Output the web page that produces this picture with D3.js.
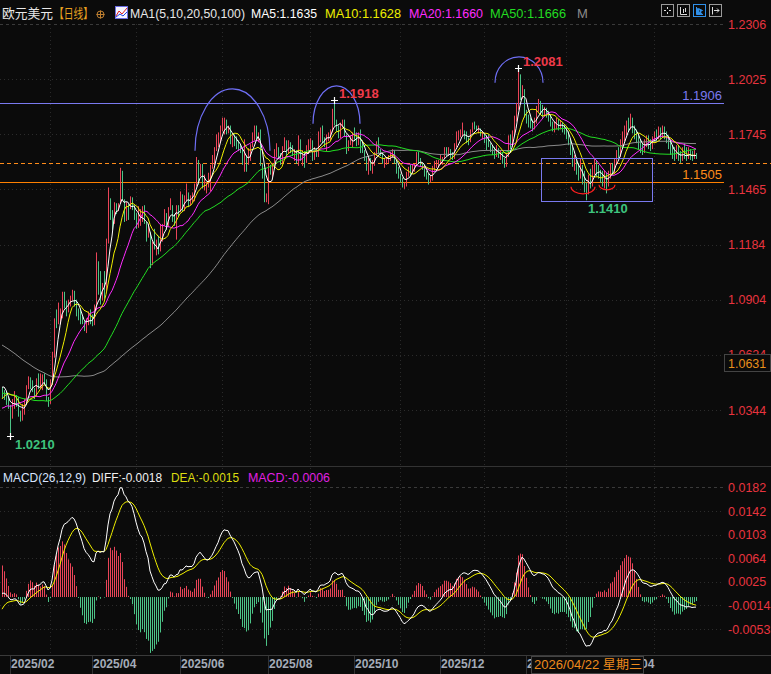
<!DOCTYPE html>
<html><head><meta charset="utf-8">
<script src="https://cdn.jsdelivr.net/npm/d3@7"></script>
<style>
html,body{margin:0;padding:0;background:#0b0b0b;overflow:hidden;}
svg{display:block;}
text{font-family:"Liberation Sans",Arial,"Noto Sans CJK SC",sans-serif;}
</style></head><body>
<svg id="c" width="771" height="674"></svg>
<script>
// ---- prehistory closes (for MA100 / MACD warm-up, not drawn) ----
const preClose = [1.1045,1.1085,1.1110,1.1085,1.1030,1.1045,1.1010,1.1075,1.1075,1.1135,1.1115,1.1160,1.1120,1.1165,1.1115,1.1135,1.1180,1.1135,1.1165,1.1135,
1.1070,1.1045,1.1030,1.0975,1.0975,1.0940,1.0935,1.0940,1.0935,1.0910,1.0890,1.0865,1.0830,1.0865,1.0855,1.0820,1.0780,1.0800,1.0795,1.0815,1.0805,1.0855,1.0880,
1.0835,1.0880,1.0735,1.0800,1.0720,1.0655,1.0620,1.0565,1.0530,1.0540,1.0600,1.0545,1.0470,1.0415,1.0425,1.0500,1.0490,1.0570,1.0550,1.0575,1.0505,
1.0500,1.0510,1.0510,1.0585,1.0565,1.0555,1.0530,1.0500,1.0465,1.0500,1.0510,1.0490,1.0350,1.0365,1.0430,1.0405,1.0405,1.0420,1.0425,1.0410,1.0355,
1.0265,1.0310,1.0390,1.0345,1.0320,1.0300,1.0245,1.0245,1.0290,1.0300,1.0300,1.0270,1.0420,1.0410,1.0415,1.0470,1.0495,1.0490];

// ---- daily bars shown ----
const close = [1.0430,1.0420,1.0390,1.0362,
1.0345,1.0378,1.0405,1.0383,1.0330,1.0310,1.0360,1.0380,1.0465,1.0490,1.0485,1.0445,1.0425,1.0500,1.0460,1.0465,1.0512,1.0485,1.0400,1.0375,
1.0485,1.0625,1.0790,1.0785,1.0830,1.0830,1.0920,1.0890,1.0850,1.0880,1.0920,1.0945,1.0900,1.0855,1.0815,1.0800,1.0790,1.0755,1.0800,1.0830,1.0815,
1.0790,1.0850,1.1050,1.0960,1.0910,1.0960,1.0950,1.1195,1.1360,1.1350,1.1285,1.1395,1.1370,1.1380,1.1510,1.1420,1.1315,1.1390,1.1365,1.1420,1.1400,1.1330,
1.1290,1.1300,1.1315,1.1370,1.1300,1.1230,1.1250,1.1090,1.1190,1.1175,1.1190,1.1165,1.1240,1.1285,1.1330,1.1280,1.1365,1.1385,1.1325,1.1290,1.1370,1.1350,
1.1440,1.1370,1.1415,1.1445,1.1395,1.1420,1.1425,1.1490,1.1585,1.1550,1.1560,1.1480,1.1480,1.1480,1.1520,1.1580,1.1610,1.1660,1.1700,1.1720,1.1790,
1.1800,1.1800,1.1760,1.1780,1.1710,1.1725,1.1720,1.1700,1.1690,1.1665,1.1600,1.1640,1.1595,1.1625,1.1690,1.1750,1.1750,1.1740,1.1740,1.1590,1.1545,1.1405,1.1415,
1.1585,1.1570,1.1575,1.1660,1.1665,1.1640,1.1615,1.1675,1.1705,1.1650,1.1700,1.1660,1.1650,1.1650,1.1610,1.1720,1.1620,1.1640,1.1605,1.1680,1.1685,
1.1710,1.1640,1.1660,1.1650,1.1720,1.1760,1.1710,1.1700,1.1735,1.1735,1.1760,1.1860,1.1815,1.1780,1.1745,1.1800,1.1815,1.1740,1.1665,1.1700,1.1725,1.1735,
1.1730,1.1715,1.1740,1.1710,1.1660,1.1630,1.1565,1.1620,1.1570,1.1605,1.1645,1.1690,1.1655,1.1645,1.1610,1.1610,1.1620,1.1625,1.1645,1.1655,1.1600,1.1565,1.1535,
1.1520,1.1485,1.1490,1.1545,1.1565,1.1560,1.1580,1.1590,1.1630,1.1620,1.1595,1.1580,1.1545,1.1530,1.1510,1.1520,1.1570,1.1595,1.1595,1.1600,
1.1610,1.1625,1.1665,1.1645,1.1645,1.1640,1.1630,1.1690,1.1740,1.1740,1.1750,1.1750,1.1740,1.1720,1.1710,1.1760,1.1790,1.1780,1.1770,1.1770,1.1745,1.1745,
1.1720,1.1715,1.1690,1.1680,1.1660,1.1635,1.1665,1.1645,1.1645,1.1610,1.1595,1.1640,1.1720,1.1690,1.1750,1.1830,1.1880,1.2040,1.1955,1.1965,1.1850,
1.1820,1.1810,1.1800,1.1780,1.1815,1.1875,1.1900,1.1870,1.1860,1.1870,1.1850,1.1835,1.1800,1.1775,1.1790,1.1810,1.1780,1.1800,1.1780,1.1770,
1.1740,1.1700,1.1660,1.1600,1.1615,1.1560,1.1540,1.1570,1.1510,1.1480,1.1460,1.1520,1.1500,1.1560,1.1590,1.1560,1.1545,1.1520,1.1510,1.1530,1.1490,1.1545,
1.1580,1.1560,1.1610,1.1650,1.1640,1.1700,1.1730,1.1760,1.1800,1.1780,1.1810,1.1770,1.1750,1.1720,1.1700,1.1680,1.1660,1.1700,1.1720,1.1700,1.1690,1.1720,
1.1740,1.1730,1.1760,1.1750,1.1770,1.1745,1.1720,1.1690,1.1660,1.1650,1.1630,1.1660,1.1640,1.1620,1.1650,1.1640,1.1630,1.1650,1.1640,1.1625,1.1640,1.1635];

const high = [1.0460,1.0445,1.0440,1.0410,
1.0370,1.0400,1.0440,1.0420,1.0410,1.0340,1.0375,1.0400,1.0470,1.0515,1.0510,1.0495,1.0455,1.0505,1.0530,1.0530,1.0525,1.0530,1.0500,1.0410,
1.0500,1.0640,1.0810,1.0855,1.0890,1.0860,1.0945,1.0945,1.0900,1.0905,1.0925,1.0955,1.0950,1.0905,1.0860,1.0860,1.0820,1.0800,1.0810,1.0845,1.0855,
1.0830,1.0880,1.1145,1.1100,1.1050,1.0990,1.1050,1.1215,1.1475,1.1420,1.1360,1.1400,1.1395,1.1395,1.1575,1.1560,1.1415,1.1400,1.1390,1.1430,1.1425,1.1385,
1.1345,1.1380,1.1365,1.1380,1.1385,1.1300,1.1290,1.1250,1.1200,1.1265,1.1210,1.1230,1.1290,1.1290,1.1365,1.1345,1.1375,1.1420,1.1385,1.1340,1.1385,1.1385,
1.1455,1.1440,1.1435,1.1495,1.1450,1.1435,1.1450,1.1495,1.1630,1.1615,1.1595,1.1595,1.1540,1.1500,1.1550,1.1590,1.1640,1.1680,1.1745,1.1755,1.1790,
1.1830,1.1830,1.1820,1.1790,1.1790,1.1740,1.1745,1.1735,1.1715,1.1690,1.1675,1.1720,1.1640,1.1675,1.1695,1.1755,1.1790,1.1790,1.1755,1.1770,1.1595,1.1565,1.1445,
1.1595,1.1590,1.1600,1.1670,1.1700,1.1680,1.1650,1.1685,1.1730,1.1715,1.1715,1.1705,1.1690,1.1670,1.1665,1.1740,1.1720,1.1665,1.1660,1.1690,1.1720,
1.1725,1.1715,1.1680,1.1675,1.1760,1.1780,1.1790,1.1730,1.1745,1.1755,1.1770,1.1875,1.1918,1.1820,1.1790,1.1805,1.1820,1.1820,1.1745,1.1715,1.1740,1.1755,
1.1780,1.1755,1.1755,1.1770,1.1715,1.1665,1.1635,1.1625,1.1625,1.1615,1.1655,1.1710,1.1730,1.1670,1.1650,1.1625,1.1630,1.1640,1.1655,1.1670,1.1665,1.1615,1.1580,
1.1545,1.1525,1.1500,1.1555,1.1580,1.1590,1.1595,1.1595,1.1655,1.1655,1.1625,1.1600,1.1590,1.1560,1.1545,1.1535,1.1585,1.1610,1.1615,1.1615,
1.1645,1.1630,1.1680,1.1680,1.1680,1.1670,1.1655,1.1700,1.1760,1.1765,1.1770,1.1805,1.1765,1.1760,1.1730,1.1770,1.1805,1.1810,1.1790,1.1790,1.1775,1.1760,
1.1750,1.1740,1.1745,1.1700,1.1690,1.1680,1.1690,1.1675,1.1665,1.1655,1.1625,1.1650,1.1740,1.1745,1.1765,1.1840,1.1905,1.2081,1.2050,1.1995,1.1975,
1.1870,1.1845,1.1830,1.1820,1.1830,1.1890,1.1925,1.1915,1.1895,1.1885,1.1880,1.1865,1.1845,1.1810,1.1810,1.1830,1.1820,1.1815,1.1805,1.1795,
1.1780,1.1760,1.1720,1.1680,1.1640,1.1630,1.1600,1.1620,1.1590,1.1560,1.1500,1.1540,1.1570,1.1590,1.1620,1.1610,1.1590,1.1565,1.1560,1.1560,1.1550,1.1560,
1.1600,1.1600,1.1620,1.1665,1.1680,1.1720,1.1760,1.1790,1.1815,1.1830,1.1850,1.1830,1.1790,1.1770,1.1740,1.1720,1.1700,1.1720,1.1740,1.1740,1.1720,1.1735,
1.1760,1.1770,1.1785,1.1780,1.1790,1.1785,1.1760,1.1740,1.1710,1.1690,1.1680,1.1690,1.1690,1.1660,1.1680,1.1700,1.1680,1.1680,1.1670,1.1660,1.1665,1.1650];

const low = [1.0405,1.0395,1.0370,1.0350,
1.0210,1.0300,1.0350,1.0360,1.0310,1.0285,1.0290,1.0320,1.0370,1.0450,1.0450,1.0435,1.0400,1.0410,1.0450,1.0450,1.0445,1.0470,1.0390,1.0360,
1.0375,1.0470,1.0610,1.0760,1.0780,1.0780,1.0810,1.0860,1.0820,1.0840,1.0870,1.0900,1.0870,1.0820,1.0800,1.0780,1.0780,1.0745,1.0735,1.0775,1.0780,
1.0770,1.0775,1.0850,1.0930,1.0880,1.0900,1.0910,1.0950,1.1190,1.1310,1.1260,1.1290,1.1340,1.1355,1.1395,1.1410,1.1300,1.1305,1.1310,1.1365,1.1360,1.1310,
1.1265,1.1270,1.1280,1.1300,1.1290,1.1200,1.1220,1.1065,1.1080,1.1160,1.1130,1.1135,1.1150,1.1200,1.1280,1.1260,1.1275,1.1360,1.1300,1.1280,1.1210,1.1325,
1.1350,1.1355,1.1355,1.1405,1.1375,1.1385,1.1400,1.1405,1.1480,1.1490,1.1530,1.1470,1.1460,1.1445,1.1475,1.1455,1.1570,1.1590,1.1660,1.1680,1.1705,
1.1760,1.1745,1.1745,1.1750,1.1695,1.1680,1.1685,1.1670,1.1660,1.1650,1.1590,1.1555,1.1555,1.1590,1.1610,1.1680,1.1715,1.1720,1.1705,1.1585,1.1520,1.1400,1.1400,
1.1390,1.1540,1.1530,1.1570,1.1630,1.1625,1.1590,1.1595,1.1665,1.1630,1.1645,1.1650,1.1635,1.1610,1.1595,1.1585,1.1610,1.1585,1.1575,1.1600,1.1645,
1.1670,1.1610,1.1615,1.1630,1.1630,1.1705,1.1700,1.1680,1.1660,1.1710,1.1715,1.1755,1.1790,1.1760,1.1725,1.1725,1.1780,1.1735,1.1645,1.1660,1.1690,1.1680,
1.1715,1.1685,1.1690,1.1650,1.1650,1.1610,1.1560,1.1540,1.1560,1.1545,1.1585,1.1635,1.1645,1.1635,1.1595,1.1575,1.1590,1.1600,1.1610,1.1625,1.1595,1.1545,1.1520,
1.1500,1.1475,1.1468,1.1480,1.1530,1.1535,1.1545,1.1555,1.1585,1.1595,1.1580,1.1565,1.1530,1.1515,1.1490,1.1500,1.1510,1.1560,1.1575,1.1575,
1.1590,1.1590,1.1620,1.1635,1.1635,1.1625,1.1615,1.1620,1.1680,1.1715,1.1730,1.1735,1.1720,1.1700,1.1690,1.1705,1.1755,1.1770,1.1765,1.1750,1.1735,1.1720,
1.1700,1.1665,1.1680,1.1655,1.1640,1.1620,1.1630,1.1625,1.1615,1.1595,1.1575,1.1580,1.1630,1.1670,1.1680,1.1740,1.1810,1.1870,1.1920,1.1925,1.1830,
1.1800,1.1780,1.1775,1.1760,1.1770,1.1800,1.1860,1.1850,1.1830,1.1835,1.1830,1.1810,1.1785,1.1760,1.1755,1.1770,1.1765,1.1770,1.1755,1.1745,
1.1720,1.1690,1.1640,1.1580,1.1560,1.1540,1.1510,1.1520,1.1490,1.1450,1.1410,1.1440,1.1470,1.1480,1.1540,1.1530,1.1520,1.1500,1.1480,1.1470,1.1445,1.1480,
1.1520,1.1540,1.1545,1.1590,1.1620,1.1630,1.1680,1.1710,1.1740,1.1760,1.1770,1.1750,1.1720,1.1700,1.1670,1.1650,1.1640,1.1650,1.1680,1.1670,1.1660,1.1670,
1.1700,1.1710,1.1720,1.1720,1.1730,1.1720,1.1700,1.1670,1.1640,1.1620,1.1610,1.1620,1.1610,1.1600,1.1610,1.1620,1.1610,1.1620,1.1615,1.1610,1.1620,1.1620];

const maPeriods = [5,10,20,50,100];
const maColors = ["#ffffff","#eeee00","#ff2cff","#22dd22","#8a8a8a"];
const priceTicks = [1.2306,1.2025,1.1745,1.1465,1.1184,1.0904,1.0624,1.0344];
const macdTicks = [0.0182,0.0142,0.0103,0.0064,0.0025,-0.0014,-0.0053];
const monthLabels = ["2025/02","2025/04","2025/06","2025/08","2025/10","2025/12","2026/02","2026/04"];
const monthIdx = [4,45,89,133,176,219,262,304];
const gridIdx = [24,67,110,154,199,241,282,326];
const highMarks = [166,258];
const lowMarks = [4,292];
const levelBlue = 1.1906, levelOrange = 1.1505, levelDash = 1.1602;
const arcsTop = [[96.5,134,1.1976,1.1662],[155.5,179,1.1992,1.1799],[246.5,270.5,1.2139,1.2007]];
const arcsBottom = [[284.5,296.5,1.1443,1.1479],[298.5,306.5,1.1463,1.1489]];
const boxZone = [269.5,325,1.1626,1.1408];
const legendMA = ["MA5:1.1635","MA10:1.1628","MA20:1.1660","MA50:1.1666"];
const legendMACD = ["DIFF:-0.0018","DEA:-0.0015","MACD:-0.0006"];
const cursorPrice = "1.0631", cursorDate = "2026/04/22 星期三";

// ---------- computations ----------
const all = preClose.concat(close);
const off = preClose.length;
const N = close.length;
function ma(n){ return close.map((c,i)=>{ const k=off+i; let s=0; for(let j=k-n+1;j<=k;j++) s+=all[j]; return s/n; }); }
const mas = maPeriods.map(ma);
function emaArr(arr,n){ const a=2/(n+1); const out=[]; let e=arr[0]; arr.forEach((v,i)=>{ e = i===0? v : e+(v-e)*a; out.push(e);}); return out; }
const e12 = emaArr(all,12), e26 = emaArr(all,26);
const diffAll = all.map((v,i)=>e12[i]-e26[i]);
const deaAll = emaArr(diffAll,9);
const diff = diffAll.slice(off), dea = deaAll.slice(off);
const hist = diff.map((d,i)=>2*(d-dea[i]));
const open = close.map((c,i)=> i===0 ? preClose[preClose.length-1] : close[i-1]);

// ---------- scales ----------
const svg = d3.select("#c");
const x = d3.scaleLinear().domain([0,N-1]).range([2,2+2*(N-1)]);
const y = d3.scaleLinear().domain([1.0344,1.2306]).range([410,24]);
const ym = d3.scaleLinear().domain([-0.0053,0.0182]).range([629,487.3]);
const RED="#ea4458", GRN="#4cc487", AXR="#e8343f";
const px = v=>Math.round(v)+0.5;

svg.append("rect").attr("width",771).attr("height",674).attr("fill","#0b0b0b");
const defs = svg.append("defs");
defs.append("clipPath").attr("id","cm").append("rect").attr("x",0).attr("y",20).attr("width",724).attr("height",446);
defs.append("clipPath").attr("id","cd").append("rect").attr("x",0).attr("y",468).attr("width",724).attr("height",187);
const cx1 = defs.append("clipPath").attr("id","cx");
cx1.append("rect").attr("x",0).attr("y",656).attr("width",531).attr("height",18);
cx1.append("rect").attr("x",644).attr("y",656).attr("width",127).attr("height",18);
defs.append("clipPath").attr("id","cy").append("rect").attr("x",724).attr("y",0).attr("width",47).attr("height",354);
defs.append("clipPath").attr("id","cy2").append("rect").attr("x",724).attr("y",372).attr("width",47).attr("height",100);

// grid
const g = svg.append("g");
g.selectAll(".hg").data(priceTicks).join("line").attr("x1",0).attr("x2",724)
 .attr("y1",d=>px(y(d))).attr("y2",d=>px(y(d))).attr("stroke",(d,i)=>i===0?"#3a3a3a":"#2c2c2c").attr("stroke-dasharray",(d,i)=>i===0?"3,3":"1,3");
g.selectAll(".hm").data(macdTicks).join("line").attr("x1",0).attr("x2",724)
 .attr("y1",d=>px(ym(d))).attr("y2",d=>px(ym(d))).attr("stroke",(d,i)=>i===0?"#3a3a3a":"#2c2c2c").attr("stroke-dasharray",(d,i)=>i===0?"3,3":"1,3");
g.selectAll(".vg").data(gridIdx).join("line").attr("x1",d=>px(x(d))).attr("x2",d=>px(x(d)))
 .attr("y1",24).attr("y2",655).attr("stroke","#2a2a2a").attr("stroke-dasharray","1,3");
// pane separators
svg.append("line").attr("x1",0).attr("x2",771).attr("y1",466.5).attr("y2",466.5).attr("stroke","#333");
svg.append("line").attr("x1",0).attr("x2",771).attr("y1",655.5).attr("y2",655.5).attr("stroke","#3a3a3a");

// level lines
svg.append("line").attr("x1",0).attr("x2",724).attr("y1",px(y(levelBlue))).attr("y2",px(y(levelBlue))).attr("stroke","#7a7af0");
svg.append("line").attr("x1",0).attr("x2",724).attr("y1",px(y(levelOrange))).attr("y2",px(y(levelOrange))).attr("stroke","#ff8000");
svg.append("line").attr("x1",0).attr("x2",771).attr("y1",px(y(levelDash))).attr("y2",px(y(levelDash))).attr("stroke","#ff8c1a").attr("stroke-dasharray","4,3");

// candles
const cg = svg.append("g").attr("clip-path","url(#cm)");
cg.selectAll("line").data(close).join("line")
 .attr("x1",(d,i)=>px(x(i))).attr("x2",(d,i)=>px(x(i)))
 .attr("y1",(d,i)=>y(high[i])).attr("y2",(d,i)=>y(low[i]))
 .attr("stroke",(d,i)=> close[i]>=open[i]?RED:GRN).attr("stroke-width",1);

// moving averages
const lineMain = d3.line().x((d,i)=>x(i)).y(d=>y(d));
const mg = svg.append("g").attr("clip-path","url(#cm)");
[4,3,2,1,0].forEach(k=>{
  mg.append("path").attr("d",lineMain(mas[k])).attr("fill","none").attr("stroke",maColors[k]).attr("stroke-width",1);
});

// MACD
const dg = svg.append("g").attr("clip-path","url(#cd)");
dg.selectAll("line").data(hist).join("line")
 .attr("x1",(d,i)=>px(x(i))).attr("x2",(d,i)=>px(x(i)))
 .attr("y1",ym(0)).attr("y2",d=>ym(d)).attr("stroke",d=>d>=0?RED:GRN);
const lineM = d3.line().x((d,i)=>x(i)).y(d=>ym(d));
dg.append("path").attr("d",lineM(dea)).attr("fill","none").attr("stroke","#eeee00");
dg.append("path").attr("d",lineM(diff)).attr("fill","none").attr("stroke","#ffffff");

// annotations
const ag = svg.append("g");
arcsTop.forEach(a=>{
  const x0=x(a[0]), x1=x(a[1]), yt=y(a[2]), yb=y(a[3]);
  ag.append("path").attr("d",`M${x0},${yb} A${(x1-x0)/2},${yb-yt} 0 0 1 ${x1},${yb}`).attr("fill","none").attr("stroke","#6f6ff5").attr("stroke-width",1.2);
});
arcsBottom.forEach(a=>{
  const x0=x(a[0]), x1=x(a[1]), ybot=y(a[2]), yb=y(a[3]);
  ag.append("path").attr("d",`M${x0},${yb} A${(x1-x0)/2},${ybot-yb} 0 0 0 ${x1},${yb}`).attr("fill","none").attr("stroke","#ff2020").attr("stroke-width",1.2);
});
ag.append("rect").attr("x",px(x(boxZone[0]))).attr("y",px(y(boxZone[2]))).attr("width",Math.round(x(boxZone[1])-x(boxZone[0])))
 .attr("height",Math.round(y(boxZone[3])-y(boxZone[2]))).attr("fill","none").attr("stroke","#7a7af0");

// extreme marks
function cross(cx,cy){ ag.append("path").attr("d",`M${cx-3},${cy+0.5}H${cx+4}M${cx+0.5},${cy-3}V${cy+4}`).attr("stroke","#fff").attr("stroke-width",1.2); }
highMarks.forEach(i=>{
  const cx=Math.round(x(i)), cy=Math.round(y(high[i]));
  cross(cx,cy);
  ag.append("text").attr("x",cx+5).attr("y",cy-2).attr("fill","#f03a4a").attr("font-size",13).attr("font-weight","bold").text(high[i].toFixed(4));
});
lowMarks.forEach((i,k)=>{
  const cx=Math.round(x(i)), cy=Math.round(y(low[i]));
  if(k===0) cross(cx,cy);
  ag.append("text").attr("x",cx+(k===0?5:2)).attr("y",cy+13).attr("fill","#3ec47e").attr("font-size",13).attr("font-weight","bold").text(low[i].toFixed(4));
});
// level labels
svg.append("text").attr("x",722).attr("y",y(levelBlue)-3).attr("text-anchor","end").attr("fill","#7a7af0").attr("font-size",13).text(levelBlue.toFixed(4));
svg.append("text").attr("x",722).attr("y",y(levelOrange)-3).attr("text-anchor","end").attr("fill","#ff8c1a").attr("font-size",13).text(levelOrange.toFixed(4));

// right axes
const ya = svg.append("g");
ya.selectAll(".pt").data(priceTicks).join("text").attr("x",728).attr("y",d=>y(d)+4.5)
 .attr("clip-path",d=>d===1.0624?"url(#cy)":null)
 .attr("fill",AXR).attr("font-size",12.5).text(d=>d.toFixed(4));
ya.selectAll(".mt").data(macdTicks).join("text").attr("x",728).attr("y",d=>ym(d)+4.5)
 .attr("fill",AXR).attr("font-size",12.5).text(d=>d.toFixed(4));
// cursor price box
svg.append("rect").attr("x",724.5).attr("y",354.5).attr("width",46).attr("height",17).attr("fill","#0b0b0b").attr("stroke","#444");
svg.append("text").attr("x",728).attr("y",368).attr("fill","#e8901c").attr("font-size",12.5).text(cursorPrice);

// bottom axis
svg.selectAll(".xt").data(monthIdx).join("line").attr("x1",d=>px(x(d))).attr("x2",d=>px(x(d))).attr("y1",656).attr("y2",674).attr("stroke","#333");
svg.append("g").attr("clip-path","url(#cx)").selectAll(".xl").data(monthLabels).join("text").attr("x",(d,i)=>x(monthIdx[i])+1).attr("y",668)
 .attr("fill","#a4acb8").attr("font-size",12).attr("font-weight","bold").text(d=>d);
svg.append("rect").attr("x",531.5).attr("y",656.5).attr("width",112).attr("height",17).attr("fill","#0b0b0b").attr("stroke","#444");
svg.append("text").attr("x",534).attr("y",669).attr("fill","#ee8a1c").attr("font-size",12).attr("textLength",108).attr("lengthAdjust","spacingAndGlyphs").text(cursorDate);

// top legend
const L = svg.append("g").attr("font-size",13);
function lt(t,x0,w,col,yy){ return L.append("text").attr("x",x0).attr("y",yy||18).attr("fill",col).attr("textLength",w).attr("lengthAdjust","spacingAndGlyphs").text(t); }
lt("欧元美元",2,51,"#e8e8e8");
lt("【日线】",54,39,"#e8a020");
L.append("circle").attr("cx",100.5).attr("cy",14.5).attr("r",3.5).attr("fill","none").attr("stroke","#c08030");
L.append("path").attr("d","M96.5,14.5H104.5M100.5,10.5V18.5").attr("stroke","#c08030");
L.append("rect").attr("x",115.5).attr("y",6.5).attr("width",12).attr("height",12).attr("fill","#f4f4ff").attr("stroke","#6a6ae0");
L.append("path").attr("d","M116,16 L119,11 L122,14 L127,8").attr("fill","none").attr("stroke","#e02020");
L.append("path").attr("d","M116,17 L120,14 L123,16 L127,12").attr("fill","none").attr("stroke","#2040e0");
lt("MA1(5,10,20,50,100)",130,115,"#e8e8e8");
const lx=[251,325,409,490], lw=[66,76,74,76];
legendMA.forEach((t,i)=> lt(t,lx[i],lw[i],maColors[i]));
L.append("text").attr("x",577).attr("y",18).attr("fill","#8a8a8a").text("M");
// toolbar
const tb=[661,677,693,709];
tb.forEach((tx,i)=>{
  const col = i===2?"#2f8fe8":"#9a9a9a";
  L.append("rect").attr("x",tx+0.5).attr("y",4.5).attr("width",12).attr("height",12).attr("fill","none").attr("stroke",col);
});
L.append("path").attr("d","M667.5,7V9M667.5,12V14M664,10.5H666M669,10.5H671").attr("stroke","#ddd");
L.append("path").attr("d","M680.5,7V14.5H687M683.5,9V13M685.5,8V12").attr("stroke","#ddd");
L.append("path").attr("d","M696.5,7V14.5H703M698.5,8.5L702.5,10.5L698.5,12.5Z").attr("stroke","#2f8fe8").attr("fill","#2f8fe8");
L.append("path").attr("d","M712.5,7V14.5M714,10.5H719M717,8.5L719,10.5L717,12.5").attr("stroke","#ddd").attr("fill","none");

// MACD legend
lt("MACD(26,12,9)",3,83,"#d8e4ff",482);
const mx=[92,171,248], mw=[70,68,82], mc=["#f0f0f0","#dddd10","#e020e0"];
legendMACD.forEach((t,i)=> lt(t,mx[i],mw[i],mc[i],482));
</script>
</body></html>
